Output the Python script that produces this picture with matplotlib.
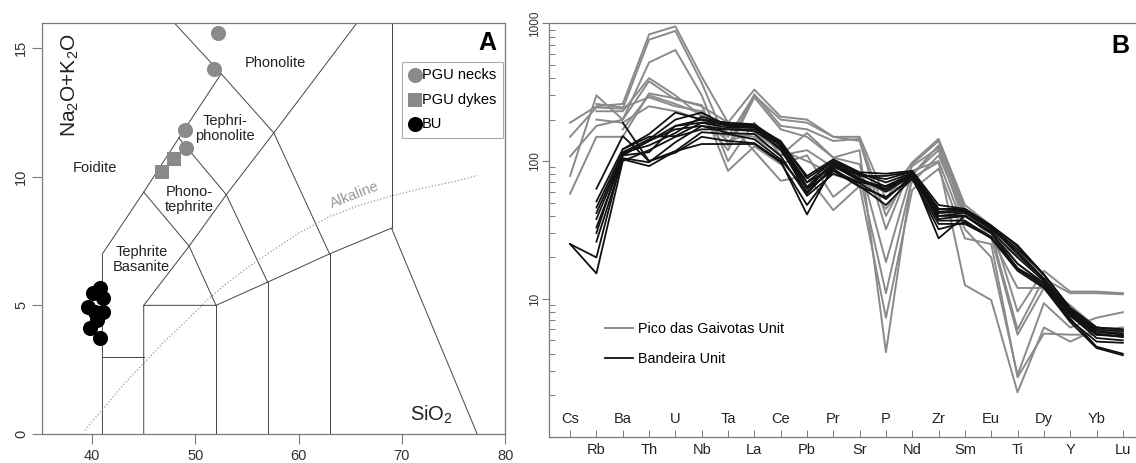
"""TAS classification (A) and primitive-mantle spider diagram (B)."""

from __future__ import annotations

import matplotlib

matplotlib.use("Agg")
import matplotlib.pyplot as plt
import numpy as np
from matplotlib.ticker import LogLocator, NullFormatter
from matplotlib.transforms import blended_transform_factory

plt.rcParams["font.family"] = ["Liberation Sans", "DejaVu Sans"]
plt.rcParams["mathtext.default"] = "regular"

nan = np.nan

# ---- panel A: total alkali vs silica ----
PGU_NECKS_SIO2 = [52.2, 51.8, 49.0, 49.1]
PGU_NECKS_ALK = [15.6, 14.2, 11.8, 11.1]
PGU_DYKES_SIO2 = [46.8, 47.9]
PGU_DYKES_ALK = [10.2, 10.7]
BU_SIO2 = [40.8, 40.1, 41.1, 39.6, 41.1, 40.3, 40.5, 39.8, 40.8]
BU_ALK = [5.66, 5.46, 5.28, 4.94, 4.75, 4.74, 4.43, 4.10, 3.72]

# field boundaries (Le Bas et al. 1986)
TAS_LINES = [
    [(41, 0), (41, 7), (45, 9.4), (48.4, 11.5), (52.5, 14), (47.9, 16.0)],
    [(41, 3), (45, 3)],
    [(45, 0), (45, 5), (52, 5), (57, 5.9), (63, 7), (69, 8), (77.3, 0)],
    [(52, 0), (52, 5)],
    [(57, 0), (57, 5.9)],
    [(63, 0), (63, 7)],
    [(69, 8), (69, 16)],
    [(45, 9.4), (49.4, 7.3), (52, 5)],
    [(48.4, 11.5), (53, 9.3), (57, 5.9)],
    [(52.5, 14), (57.6, 11.7), (63, 7)],
    [(45, 5), (49.4, 7.3), (53, 9.3), (57.6, 11.7), (61, 13.5), (65.7, 16)],
]

ALKALINE_SIO2 = [39.3, 41, 43, 45, 47, 49, 51, 53, 55, 57, 60, 63, 66, 69, 72, 75, 77.3]
ALKALINE_ALK = [0.15, 0.95, 1.9, 2.75, 3.6, 4.35, 5.15, 5.85, 6.45, 7.0, 7.8, 8.45,
                8.9, 9.25, 9.55, 9.8, 10.05]

# ---- panel B: normalised trace elements ----
ELEMENTS = ["Cs", "Rb", "Ba", "Th", "U", "Nb", "Ta", "La", "Ce", "Pb", "Pr",
            "Sr", "P", "Nd", "Zr", "Sm", "Eu", "Ti", "Dy", "Y", "Yb", "Lu"]

PGU_SPIDER = [
    [190, 250, 260, 830, 950, 410, 190, 330, 210, 200, 150, 150, 53, 98, 145, 48, 34, 8.1, 16, 11.3, 11.3, 11.0],
    [150, 245, 240, 760, 880, 370, 130, 305, 180, 170, 140, 145, 40, 92, 125, 42, 30, 6.0, 14, 11.0, 11.0, 10.8],
    [108, 180, 200, 520, 640, 300, 100, 190, 110, 160, 106, 95, 18.5, 85, 100, 32, 20, 2.8, 9.3, 6.2, 7.3, 8.0],
    [78, 300, 200, 380, 280, 255, 85, 128, 95, 110, 55, 78, 11, 76, 98, 12.6, 9.8, 2.1, 6.2, 4.9, 6.0, 6.2],
    [58, 150, 150, 310, 285, 250, 190, 118, 72, 78, 44, 66, 7.3, 62, 88, 27.5, 25, 2.7, 5.6, 5.5, 5.5, 5.8],
    [nan, 260, 245, 290, 250, 230, 150, 300, 200, 190, 150, 140, 32, 95, 140, 45, 32, 18, 13, 8.0, 6.0, 5.5],
    [nan, 230, 230, 400, 300, 210, 120, 290, 170, 150, 106, 120, 4.1, 80, 120, 35, 28, 5.5, 12, 9.0, 6.2, 5.8],
    [nan, 200, 190, 250, 230, 200, 140, 160, 120, 100, 80, 70, 60, 70, 110, 40, 30, 20, 14, 8.5, 6.0, 5.5],
    [nan, nan, 170, 300, 260, 220, 160, 150, 110, 120, 90, 80, 45, 80, 130, 42, 28, 12, 12, 8.0, 6.2, 5.9],
]

BU_SPIDER = [
    [25, 20, 110, 140, 180, 200, 180, 175, 135, 70, 100, 80, 65, 80, 45, 45, 34, 24, 15, 8.6, 6.2, 6.0],
    [25, 15.3, 100, 120, 150, 170, 170, 170, 130, 63, 95, 75, 60, 78, 40, 42, 32, 22, 14, 8.0, 5.8, 5.6],
    [nan, 63, 152, 100, 115, 150, 140, 135, 100, 41, 92, 74, 63, 80, 27.5, 40, 30, 16.7, 13, 7.5, 5.5, 5.3],
    [nan, 51, 122, 157, 225, 200, 190, 185, 137, 78, 103, 83, 81, 85, 48, 45, 34, 24.5, 15, 8.6, 6.2, 6.0],
    [nan, 46, 116, 144, 200, 225, 180, 180, 130, 70, 90, 80, 74, 84, 45, 44, 33, 22, 14, 8.2, 6.0, 5.8],
    [nan, 38, 110, 116, 180, 190, 175, 175, 120, 63, 85, 70, 66, 81, 40, 40, 31, 20, 13.5, 7.8, 5.5, 5.4],
    [nan, 33, 105, 98, 137, 180, 160, 157, 109, 56, 81, 69, 53, 78, 37, 37, 28, 16.7, 12.3, 7.0, 4.9, 4.8],
    [nan, 26, 103, 92, 118, 162, 157, 144, 103, 60, 88, 66, 48, 75, 32, 36, 27.5, 16, 12, 6.8, 4.4, 3.9],
    [nan, nan, 190, 100, 118, 133, 133, 133, 98, 48, 85, 65, 55, 74, 35, 35, 28, 16.5, 12.5, 7.2, 4.5, 4.0],
    [nan, nan, 122, 150, 152, 190, 185, 180, 140, 75, 100, 82, 70, 82, 42, 43, 33, 23, 15, 8.4, 5.8, 5.5],
    [nan, 30, 115, 130, 160, 210, 185, 182, 135, 65, 97, 78, 78, 84, 43, 44, 33, 21, 14, 8.0, 5.6, 5.3],
    [nan, 42, 112, 140, 170, 180, 170, 165, 125, 58, 92, 72, 62, 80, 38, 40, 30, 18, 13, 7.6, 5.2, 5.0],
]

GREY = "#8a8a8a"
FRAME = "#7a7a7a"


def draw_tas(ax) -> None:
    for line in TAS_LINES:
        xs, ys = zip(*line)
        ax.plot(xs, ys, color="#444444", lw=0.7, zorder=1)
    ax.plot(ALKALINE_SIO2, ALKALINE_ALK, color="#999999", lw=0.9, ls=":", zorder=1)

    fields = {
        "Phonolite": (57.8, 14.42),
        "Tephri-\nphonolite": (52.9, 11.87),
        "Foidite": (40.3, 10.34),
        "Phono-\ntephrite": (49.4, 9.11),
        "Tephrite\nBasanite": (44.8, 6.78),
    }
    for text, (x, y) in fields.items():
        ax.text(x, y, text, ha="center", va="center", fontsize=10.5,
                linespacing=1.05, color="#222222")
    ax.text(65.4, 9.3, "Alkaline", rotation=21, ha="center", va="center",
            fontsize=10.5, color="#999999")
    ax.text(72.9, 0.74, "SiO$_2$", ha="center", va="center", fontsize=14.5,
            color="#222222")
    ax.text(37.9, 13.55, "Na$_2$O+K$_2$O", rotation=90, ha="center", va="center",
            fontsize=15, color="#222222")
    ax.text(0.962, 0.951, "A", transform=ax.transAxes, ha="center", va="center",
            fontsize=18, fontweight="bold")

    ax.scatter(PGU_NECKS_SIO2, PGU_NECKS_ALK, s=118, marker="o", color=GREY,
               lw=0, zorder=3, label="PGU necks")
    ax.scatter(PGU_DYKES_SIO2, PGU_DYKES_ALK, s=88, marker="s", color=GREY,
               lw=0, zorder=3, label="PGU dykes")
    ax.scatter(BU_SIO2, BU_ALK, s=118, marker="o", color="black", lw=0,
               zorder=3, label="BU")

    leg = ax.legend(loc="upper left", bbox_to_anchor=(0.777, 0.906),
                    borderaxespad=0, borderpad=0.45, fancybox=False,
                    edgecolor="#999999", handlelength=0.9, handletextpad=0.05,
                    labelspacing=0.72, fontsize=10.5, scatterpoints=1)
    leg.get_frame().set_linewidth(0.8)

    ax.set_xlim(35.15, 80)
    ax.set_ylim(0, 15.97)
    ax.set_xticks([40, 50, 60, 70, 80])
    ax.set_yticks([0, 5, 10, 15])
    ax.tick_params(axis="both", direction="out", length=7, width=0.8,
                   color=FRAME, labelcolor="#333333", labelsize=10.5)
    ax.tick_params(axis="y", labelrotation=90, pad=3)
    ax.tick_params(axis="x", pad=4)
    for label in ax.get_yticklabels():
        label.set_va("center")
    for spine in ax.spines.values():
        spine.set_color(FRAME)
        spine.set_linewidth(0.9)


def draw_spider(ax) -> None:
    x = np.arange(len(ELEMENTS))
    for i, values in enumerate(PGU_SPIDER):
        ax.plot(x, values, color=GREY, lw=1.4,
                label="Pico das Gaivotas Unit" if i == 0 else None)
    for i, values in enumerate(BU_SPIDER):
        ax.plot(x, values, color="#111111", lw=1.3,
                label="Bandeira Unit" if i == 0 else None)

    ax.set_yscale("log")
    ax.set_ylim(1.0, 1000)
    ax.set_xlim(-0.8, 21.5)
    ax.set_yticks([10, 100, 1000])
    ax.set_yticklabels(["10", "100", "1000"])
    ax.yaxis.set_minor_locator(LogLocator(base=10, subs=range(2, 10)))
    ax.yaxis.set_minor_formatter(NullFormatter())
    ax.tick_params(axis="y", which="major", direction="out", length=5,
                   width=0.8, color=FRAME, labelsize=8.5, labelcolor="#333333",
                   labelrotation=90, pad=1)
    ax.tick_params(axis="y", which="minor", direction="in", length=4,
                   width=0.7, color=FRAME)
    for label in ax.get_yticklabels():
        label.set_va("center")

    ax.set_xticks(x)
    ax.set_xticklabels([])
    ax.tick_params(axis="x", direction="in", length=5, width=0.7, color=FRAME)
    trans = blended_transform_factory(ax.transData, ax.transAxes)
    for i, name in enumerate(ELEMENTS):
        y = 0.042 if i % 2 == 0 else -0.032
        ax.text(i, y, name, transform=trans, ha="center", va="center",
                fontsize=10.5, color="#222222", clip_on=False)

    ax.spines["right"].set_visible(False)
    for name in ("left", "top", "bottom"):
        ax.spines[name].set_color(FRAME)
        ax.spines[name].set_linewidth(0.9)

    ax.legend(loc="upper left", bbox_to_anchor=(0.095, 0.278),
              borderaxespad=0, borderpad=0, frameon=False, handlelength=1.95,
              handletextpad=0.35, labelspacing=1.1, fontsize=10.4)
    ax.text(0.974, 0.945, "B", transform=ax.transAxes, ha="center",
            va="center", fontsize=18, fontweight="bold")


def main() -> None:
    fig = plt.figure(figsize=(11.36, 4.63), dpi=100)
    ax_tas = fig.add_axes([0.037, 0.0626, 0.4076, 0.8877])
    ax_spider = fig.add_axes([0.4833, 0.0568, 0.5167, 0.8929])
    draw_tas(ax_tas)
    draw_spider(ax_spider)
    fig.savefig("out.png", dpi=100)
    plt.close(fig)


if __name__ == "__main__":
    main()
